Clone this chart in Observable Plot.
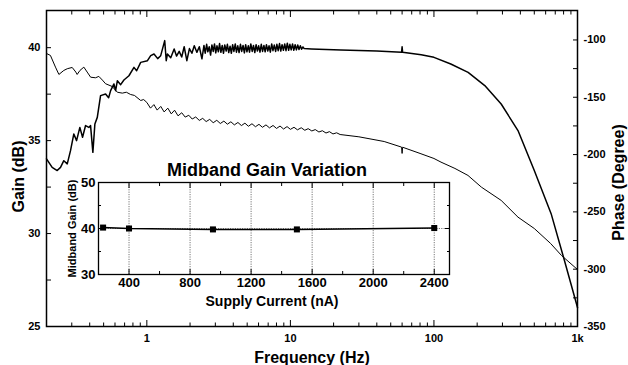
<!DOCTYPE html>
<html><head><meta charset="utf-8">
<script src="https://cdn.jsdelivr.net/npm/d3@7"></script>
<script src="https://cdn.jsdelivr.net/npm/@observablehq/plot@0.6"></script>
<style>
body{margin:0;background:#fff;}
#chart{position:relative;width:628px;height:365px;}
#chart svg{position:absolute;left:0;top:0;}
</style></head><body><div id="chart"></div>
<script>
// ---- Main chart: gain (left axis) vs frequency ----
const gainFreq = [0.2,0.219,0.2375,0.2504,0.264,0.279,0.294,0.31,0.324,0.3415,0.3566,0.3743,0.3946,0.4055,0.4208,0.4346,0.4517,0.476,0.516,0.5416,0.5594,0.59,0.606,0.623,0.657,0.6925,0.7504,0.8135,0.849,0.906,1.01,1.064,1.122,1.19,1.249,1.332,1.365,1.391,1.467,
 1.55,1.61,1.68,1.75,1.82,1.90,1.98,2.06,2.14,2.23,2.32,2.42,
 2.50,2.55,2.61,2.66,2.72,2.78,2.84,2.90,2.96,3.02,3.08,3.15,3.21,3.28,3.35,3.42,3.49,3.57,3.64,3.72,3.80,3.88,3.96,4.04,4.13,4.21,4.30,4.39,4.49,4.58,4.68,4.78,4.88,4.98,5.09,5.19,5.30,5.42,5.53,5.65,5.77,5.89,6.01,6.14,6.27,6.40,6.54,6.67,6.81,6.96,7.10,7.25,7.41,7.56,7.72,7.89,8.05,8.22,8.40,8.57,8.75,8.94,9.13,9.32,9.52,9.72,9.92,10.13,10.35,10.56,10.79,11.01,11.25,11.48,11.73,11.97,12.23,12.48,
 14,22.5,40,59.5,60,60.5,81.5,100,131,173,226,294,385,500,655,811,1000];
const gainDb = [34.02,33.56,33.39,33.56,33.92,33.75,34.46,35.36,35.0,35.71,35.18,35.81,35.71,35.81,34.37,35.9,36.25,37.42,37.51,37.31,37.69,38.05,37.69,38.22,38.01,38.26,38.49,38.94,38.76,39.21,39.3,39.57,39.66,39.41,39.57,40.38,39.3,39.66,39.46,
 39.93,39.55,39.80,39.50,40.05,39.30,39.95,39.70,40.10,39.75,40.05,39.40,
 40.12,39.70,40.18,39.78,40.05,39.60,40.15,39.80,40.20,39.72,40.10,39.78,40.22,39.75,40.12,39.70,40.15,39.82,40.18,39.74,40.08,39.70,40.16,39.80,40.20,39.76,40.10,39.74,40.18,39.80,40.12,39.72,40.16,39.78,40.10,39.76,40.20,39.80,40.12,39.74,40.16,39.82,40.10,39.76,40.18,39.80,40.12,39.78,40.16,39.82,40.10,39.76,40.20,39.84,40.14,39.80,40.18,39.84,40.22,39.82,40.16,39.86,40.20,39.84,40.24,39.86,40.18,39.88,40.20,39.86,40.16,39.88,40.14,39.90,40.10,39.92,40.04,39.95,
 39.93,39.88,39.82,39.75,40.05,39.75,39.62,39.48,39.12,38.67,37.96,36.97,35.54,33.39,31.07,28.55,26.02];

// ---- Main chart: phase (right axis) vs frequency ----
const phaseFreq = [0.2,0.213,0.231,0.244,0.264,0.279,0.302,0.32,0.327,0.342,0.364,0.384,0.406,0.439,0.463,0.49,0.516,0.574,0.623,0.675,0.72,0.771,0.82,0.906,0.95,
 1.00,1.06,1.12,1.18,1.25,1.32,1.40,1.48,1.56,1.65,1.75,1.85,1.96,2.07,2.19,2.32,2.45,2.59,2.74,2.90,3.07,3.25,3.44,3.64,3.85,4.07,4.31,4.56,4.82,5.10,5.40,5.71,6.04,6.39,6.76,7.15,7.57,8.01,8.47,8.96,9.48,10.0,10.6,11.2,11.9,12.6,13.3,14.1,14.9,15.8,16.7,17.7,18.7,19.8,21.0,22.2,
 30,45,59.5,60,60.5,80,100,112,140,172.6,214,294,385,500,650,773,1000];
const phaseDeg = [-111.8,-113.5,-123.7,-130.1,-126.6,-125.1,-124.0,-128.0,-130.1,-126.6,-123.7,-128.0,-132.5,-133.0,-131.8,-135.0,-138.2,-140.6,-145.6,-146.4,-145.6,-147.6,-148.4,-152.8,-152.0,
 -154.5,-159.5,-156.4,-161.2,-158.0,-162.8,-159.5,-164.5,-161.3,-166.2,-163.5,-167.3,-165.7,-169.0,-167.2,-170.2,-168.4,-171.2,-169.3,-172.2,-170.1,-172.9,-170.8,-173.5,-171.4,-174.1,-172.0,-174.7,-172.6,-175.3,-173.1,-175.7,-173.6,-176.2,-174.1,-176.7,-174.6,-177.2,-175.1,-177.7,-175.6,-178.0,-176.2,-178.4,-176.6,-178.8,-177.4,-179.4,-178.2,-180.3,-179.2,-181.2,-180.0,-182.0,-181.0,-182.5,
 -184.5,-188.6,-193.5,-199,-193.6,-199,-203.4,-206.6,-212.1,-218.2,-228.4,-240,-254.6,-264.5,-277.6,-288,-300.3];

// ---- Inset: midband gain vs supply current ----
const supplyCurrent = [230, 400, 950, 1500, 2400];
const midbandGain = [40.2, 40.0, 39.8, 39.8, 40.1];

// ---- Ticks ----
const freqMajorTicks = [1, 10, 100, 1000];
const freqTickLabels = ["1", "10", "100", "1k"];
const freqMinorTicks = [0.3,0.4,0.5,0.6,0.7,0.8,0.9,2,3,4,5,6,7,8,9,20,30,40,50,60,70,80,90,200,300,400,500,600,700,800,900];
const gainMajorTicks = [25, 30, 35, 40];
const gainMinorTicks = [27.5, 32.5, 37.5];
const phaseMajorTicks = [-350, -300, -250, -200, -150, -100];
const phaseMinorTicks = [-325, -275, -225, -175, -125];
const currentTicks = [400, 800, 1200, 1600, 2000, 2400];
const currentMinorTicks = [600, 1000, 1400, 1800, 2200];
const insetGainTicks = [30, 40, 50];
const insetGainMinorTicks = [35, 45];
const insetGainGrid = [40];

const gainData = gainFreq.map((f, i) => ({f, v: gainDb[i]}));
const phaseData = phaseFreq.map((f, i) => ({f, v: phaseDeg[i]}));
const insetData = supplyCurrent.map((c, i) => ({c, g: midbandGain[i]}));

const W = 628, H = 365;
const style = {background: "transparent", fontFamily: "'Liberation Sans', Arial, Helvetica, sans-serif", overflow: "visible", color: "black"};
const common = {width: W, height: H, marginTop: 10, marginRight: 51, marginBottom: 39, marginLeft: 46, style};
const xOpt = {type: "log", domain: [0.2, 1000]};
const str = d => String(d);
const title = {text: d => d, textAnchor: "middle", lineAnchor: "middle", fontWeight: "bold"};

const gainPlot = Plot.plot({
  ...common,
  x: xOpt,
  y: {domain: [25, 42]},
  marks: [
    Plot.line(gainData, {x: "f", y: "v", strokeWidth: 1.5, stroke: "black"}),
    Plot.frame({strokeWidth: 1.5, stroke: "black"}),
    Plot.axisX(freqMajorTicks, {anchor: "bottom", tickSize: 6, dy: -6, fill: "none"}),
    Plot.axisX(freqMinorTicks, {anchor: "bottom", tickSize: 3.5, dy: -3.5, fill: "none"}),
    Plot.axisX(freqMajorTicks, {anchor: "top", tickSize: 6, dy: 6, fill: "none"}),
    Plot.axisX(freqMinorTicks, {anchor: "top", tickSize: 3.5, dy: 3.5, fill: "none"}),
    Plot.axisX(freqMajorTicks, {anchor: "bottom", tickSize: 0, tickPadding: 8, tickFormat: d => freqTickLabels[freqMajorTicks.indexOf(d)], fontSize: 11, fontWeight: "bold", label: null}),
    Plot.axisY(gainMajorTicks, {anchor: "left", tickSize: 5, dx: 5, fill: "none"}),
    Plot.axisY(gainMinorTicks, {anchor: "left", tickSize: 5, dx: 5, fill: "none"}),
    Plot.axisY(gainMajorTicks, {anchor: "left", tickSize: 0, tickPadding: 6, tickFormat: str, fontSize: 11, fontWeight: "bold", label: null}),
    Plot.text(["Gain (dB)"], {...title, frameAnchor: "left", rotate: -90, dx: -28, dy: 8, fontSize: 16}),
    Plot.text(["Frequency (Hz)"], {...title, frameAnchor: "bottom", dy: 31, fontSize: 16})
  ]
});

const phasePlot = Plot.plot({
  ...common,
  x: {...xOpt, axis: null},
  y: {domain: [-350, -74.3], axis: null},
  marks: [
    Plot.line(phaseData, {x: "f", y: "v", strokeWidth: 1, stroke: "black"}),
    Plot.axisY(phaseMajorTicks, {anchor: "right", tickSize: 5, dx: -5, fill: "none"}),
    Plot.axisY(phaseMinorTicks, {anchor: "right", tickSize: 5, dx: -5, fill: "none"}),
    Plot.axisY(phaseMajorTicks, {anchor: "right", tickSize: 0, tickPadding: 6, tickFormat: str, fontSize: 11, fontWeight: "bold", label: null}),
    Plot.text(["Phase (Degree)"], {...title, frameAnchor: "right", rotate: -90, dx: 41, dy: 14, fontSize: 16})
  ]
});

const gridStyle = {stroke: "#777", strokeOpacity: 1, strokeWidth: 1, strokeDasharray: "1.2,1.2"};
const insetPlot = Plot.plot({
  width: W, height: H, marginTop: 182, marginRight: 179, marginBottom: 91, marginLeft: 98, style,
  x: {domain: [200, 2500]},
  y: {domain: [30, 50]},
  marks: [
    Plot.frame({fill: "white", stroke: "none"}),
    Plot.gridX(currentTicks, gridStyle),
    Plot.gridY(insetGainGrid, gridStyle),
    Plot.line(insetData, {x: "c", y: "g", strokeWidth: 1.5, stroke: "black"}),
    Plot.dot(insetData, {x: "c", y: "g", symbol: "square", r: 3.4, fill: "black", stroke: "none"}),
    Plot.axisX(currentTicks, {anchor: "bottom", tickSize: 5, dy: -5, fill: "none"}),
    Plot.axisX(currentMinorTicks, {anchor: "bottom", tickSize: 3, dy: -3, fill: "none"}),
    Plot.axisX(currentTicks, {anchor: "top", tickSize: 5, dy: 5, fill: "none"}),
    Plot.axisX(currentMinorTicks, {anchor: "top", tickSize: 3, dy: 3, fill: "none"}),
    Plot.axisY(insetGainGrid, {anchor: "left", tickSize: 5, dx: 5, fill: "none"}),
    Plot.axisY(insetGainMinorTicks, {anchor: "left", tickSize: 3, dx: 3, fill: "none"}),
    Plot.axisY(insetGainGrid, {anchor: "right", tickSize: 5, dx: -5, fill: "none"}),
    Plot.axisY(insetGainMinorTicks, {anchor: "right", tickSize: 3, dx: -3, fill: "none"}),
    Plot.frame({strokeWidth: 1.3, stroke: "black"}),
    Plot.axisX(currentTicks, {anchor: "bottom", tickSize: 0, tickPadding: 3, tickFormat: str, fontSize: 13, fontWeight: "bold", label: null}),
    Plot.axisY(insetGainTicks, {anchor: "left", tickSize: 0, tickPadding: 3, tickFormat: str, fontSize: 13, fontWeight: "bold", label: null}),
    Plot.text(["Midband Gain Variation"], {...title, frameAnchor: "top", dy: -12, dx: -7, fontSize: 18}),
    Plot.text(["Supply Current (nA)"], {...title, frameAnchor: "bottom", dy: 27, dx: -2, fontSize: 14}),
    Plot.text(["Midband Gain (dB)"], {...title, frameAnchor: "left", rotate: -90, dx: -26, fontSize: 11})
  ]
});

const chart = document.getElementById("chart");
chart.append(gainPlot, phasePlot, insetPlot);
</script>
</body></html>
